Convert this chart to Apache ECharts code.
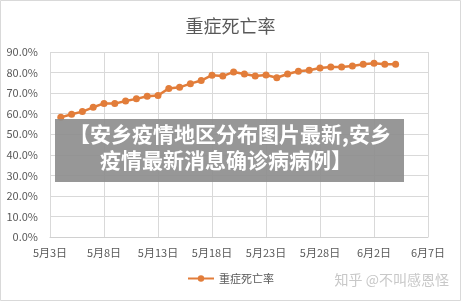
<!DOCTYPE html>
<html>
<head>
<meta charset="utf-8">
<script src="https://cdn.jsdelivr.net/npm/echarts@6/dist/echarts.min.js"></script>
<style>
  html, body { margin: 0; padding: 0; background: #fff; }
  #chart { width: 461px; height: 301px; }
</style>
</head>
<body>
<div id="chart"></div>
<script>
// Daily dates shown on the x axis (5月3日 – 6月7日)
const dates = [
  '5月3日','5月4日','5月5日','5月6日','5月7日','5月8日','5月9日','5月10日','5月11日','5月12日',
  '5月13日','5月14日','5月15日','5月16日','5月17日','5月18日','5月19日','5月20日','5月21日','5月22日',
  '5月23日','5月24日','5月25日','5月26日','5月27日','5月28日','5月29日','5月30日','5月31日','6月1日',
  '6月2日','6月3日','6月4日','6月5日','6月6日','6月7日'
];
// Severe-case fatality rate (%) reported from 5月4日 to 6月4日
const firstDataIndex = 1;
const fatalityRate = [
  58.2, 59.7, 61.0, 63.1, 65.0, 64.9, 66.2, 67.2, 68.5, 68.8,
  72.3, 72.8, 74.6, 76.1, 78.7, 78.3, 80.3, 79.3, 78.3, 78.8,
  77.5, 79.3, 80.6, 81.1, 82.2, 82.7, 82.7, 83.2, 84.0, 84.5,
  84.0, 84.0
];
const seriesName = '重症死亡率';
const bannerLines = ['【安乡疫情地区分布图片最新,安乡', '疫情最新消息确诊病病例】'];
const watermark = '知乎 @不叫感恩怪';

const seriesData = dates.map((d, i) => {
  const k = i - firstDataIndex;
  return (k >= 0 && k < fatalityRate.length) ? fatalityRate[k] : null;
});

const font = '"Noto Sans CJK SC", "Noto Sans", sans-serif';
const chart = echarts.init(document.getElementById('chart'));
chart.setOption({
  backgroundColor: '#fff',
  animation: false,
  title: {
    text: seriesName,
    left: 'center',
    top: 12,
    textStyle: { fontFamily: font, fontSize: 18, fontWeight: 'normal', color: '#595959' }
  },
  legend: {
    data: [seriesName],
    bottom: 12,
    left: 'center',
    itemWidth: 26,
    itemHeight: 8,
    textStyle: { fontFamily: font, fontSize: 11, color: '#595959' }
  },
  grid: { left: 50, right: 33, top: 52, bottom: 64 },
  xAxis: {
    type: 'category',
    data: dates,
    boundaryGap: false,
    axisLine: { show: true, lineStyle: { color: '#d0d0d0' } },
    axisTick: { show: false },
    axisLabel: {
      interval: 4,
      margin: 10,
      fontFamily: font, fontSize: 11, color: '#595959',
      showMaxLabel: true
    },
    splitLine: { show: true, interval: 4, lineStyle: { color: '#d9d9d9' } }
  },
  yAxis: {
    type: 'value',
    min: 0, max: 90, interval: 10,
    axisLine: { show: false },
    axisTick: { show: false },
    axisLabel: {
      margin: 12,
      fontFamily: font, fontSize: 11, color: '#595959',
      formatter: v => v.toFixed(1) + '%'
    },
    splitLine: { lineStyle: { color: '#d9d9d9' } }
  },
  series: [{
    name: seriesName,
    type: 'line',
    data: seriesData,
    connectNulls: false,
    symbol: 'circle',
    symbolSize: 7,
    lineStyle: { color: '#E27D3A', width: 2.5 },
    itemStyle: { color: '#E27D3A' }
  }],
  graphic: [
    {
      type: 'rect', z: 100,
      shape: { x: 0.5, y: 0.5, width: 460, height: 300 },
      style: { fill: 'none', stroke: '#d9d9d9', lineWidth: 1 }
    },
    {
      type: 'rect', z: 100,
      shape: { x: 55, y: 119, width: 349, height: 63 },
      style: { fill: 'rgba(140,140,140,0.9)' }
    },
    {
      type: 'text', z: 101,
      x: 230, y: 134,
      style: {
        text: bannerLines[0], fill: '#fff',
        font: 'bold 21px ' + font,
        textAlign: 'center', textVerticalAlign: 'middle'
      }
    },
    {
      type: 'text', z: 101,
      x: 226, y: 160,
      style: {
        text: bannerLines[1], fill: '#fff',
        font: 'bold 21px ' + font,
        textAlign: 'center', textVerticalAlign: 'middle'
      }
    },
    {
      type: 'text', z: 101,
      right: 12, top: 273,
      style: {
        text: watermark, fill: '#c8c8c8',
        font: '14px ' + font
      }
    }
  ]
});
</script>
</body>
</html>
